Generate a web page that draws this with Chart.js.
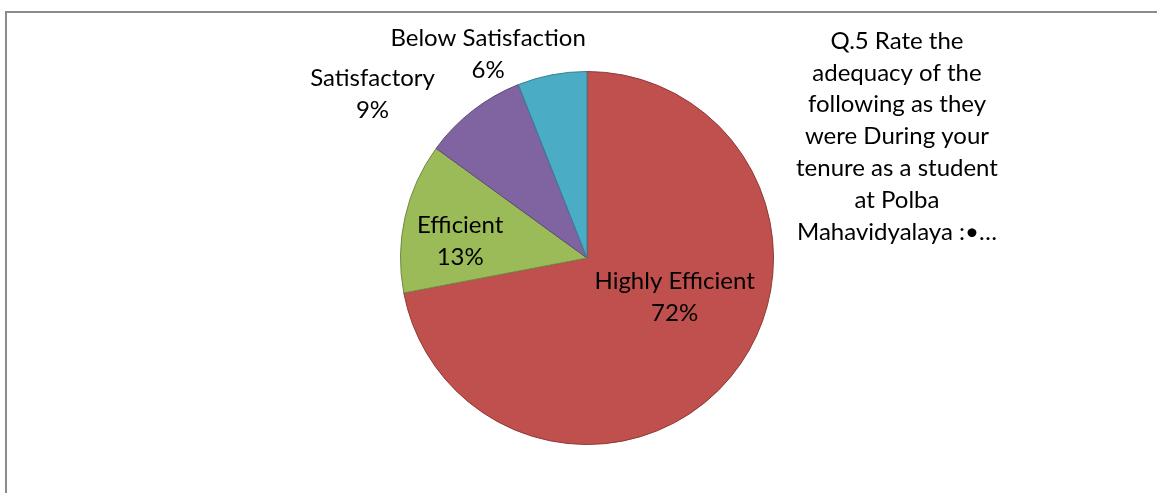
<!DOCTYPE html>
<html lang="en">
<head>
  <meta charset="UTF-8">
  <title>Q.5 Adequacy Pie</title>
  <script src="https://cdn.jsdelivr.net/npm/chart.js"></script>
  <style>
    html, body { margin: 0; padding: 0; background: #fff; overflow: hidden; }
    #wrap { position: relative; width: 1157px; height: 493px; }
  </style>
</head>
<body>
  <div id="wrap"><canvas id="pieChart"></canvas></div>

  <script>
    // data
    const categories = ['Highly Efficient', 'Efficient', 'Satisfactory', 'Below Satisfaction'];
    const percents = [72, 13, 9, 6];
    const sliceColors = ['#C0504D', '#9BBB59', '#8064A2', '#4BACC6'];
    const sliceBorders = ['#8E3A37', '#728A41', '#5E4A78', '#37808F'];
    const titleLines = ['Q.5 Rate the', 'adequacy of the', 'following as they', 'were During your',
                        'tenure as a student', 'at Polba', 'Mahavidyalaya :\u2022\u2026'];

    // where each data label sits, relative to pie centre, in radius units
    const labelSpots = [[0.47, 0.21], [-0.68, -0.09], [-1.15, -0.88], [-0.53, -1.09]];

    const FONT = '24px Lato, "Open Sans", sans-serif';

    const framePlugin = {
      id: 'frame',
      beforeDraw(chart) {
        const ctx = chart.ctx;
        ctx.save();
        ctx.fillStyle = '#fff';
        ctx.fillRect(0, 0, chart.width, chart.height);
        ctx.strokeStyle = '#8C8C8C';
        ctx.lineWidth = 2;
        ctx.beginPath();
        ctx.moveTo(6, chart.height + 5);
        ctx.lineTo(6, 12);
        ctx.lineTo(chart.width + 5, 12);
        ctx.stroke();
        ctx.restore();
      }
    };

    const labelPlugin = {
      id: 'pieLabels',
      afterDatasetsDraw(chart) {
        const ctx = chart.ctx;
        const arcs = chart.getDatasetMeta(0).data;
        ctx.save();
        ctx.font = FONT;
        ctx.fillStyle = '#000';
        ctx.textAlign = 'center';
        ctx.textBaseline = 'middle';
        arcs.forEach((arc, i) => {
          const r = arc.outerRadius;
          const x = arc.x + labelSpots[i][0] * r;
          const y = arc.y + labelSpots[i][1] * r;
          ctx.fillText(categories[i], x, y - 16);
          ctx.fillText(percents[i] + '%', x, y + 16);
        });

        // wrapped title on the right
        titleLines.forEach((line, i) => {
          ctx.fillText(line, 897, 41 + i * 31.8);
        });
        ctx.restore();
      }
    };

    new Chart(document.getElementById('pieChart'), {
      type: 'pie',
      data: {
        labels: categories,
        datasets: [{
          data: percents,
          backgroundColor: sliceColors,
          borderColor: sliceBorders,
          borderWidth: 1
        }]
      },
      options: {
        responsive: true,
        maintainAspectRatio: false,
        animation: false,
        layout: { padding: { top: 71, bottom: 48, left: 400, right: 383 } },
        plugins: {
          legend: { display: false },
          tooltip: { enabled: false },
          title: { display: false }
        }
      },
      plugins: [framePlugin, labelPlugin]
    });
  </script>
</body>
</html>
